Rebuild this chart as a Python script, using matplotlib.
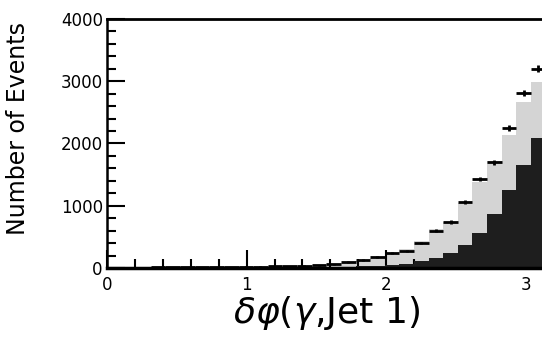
import numpy as np
import matplotlib
matplotlib.use("Agg")
import matplotlib.pyplot as plt
from matplotlib.ticker import MultipleLocator

# 30 bins in delta phi from 0 to pi
n_bins = 30
data = [5, 5, 6, 8, 8, 10, 12, 14, 16, 20, 22, 26, 30, 36, 45,
        62, 96, 128, 177, 240, 275, 400, 595, 740, 1060, 1430, 1700, 2250, 2810, 3200]
data_err = [2, 2, 2, 3, 3, 3, 3, 4, 4, 4, 5, 5, 5, 6, 7,
            8, 10, 11, 13, 15, 17, 20, 24, 27, 33, 38, 41, 47, 53, 57]
total_mc = [4, 5, 6, 7, 8, 9, 11, 13, 15, 18, 21, 25, 30, 37, 46,
            60, 85, 115, 160, 220, 300, 430, 620, 740, 1045, 1380, 1720, 2130, 2670, 2980]
direct_mc = [1, 1, 1, 2, 2, 2, 2, 3, 3, 4, 4, 5, 6, 7, 9,
             12, 18, 25, 35, 50, 70, 105, 160, 240, 370, 562, 875, 1260, 1655, 2090]

edges = np.linspace(0, np.pi, n_bins + 1)
centers = 0.5 * (edges[1:] + edges[:-1])
half_w = 0.5 * (edges[1] - edges[0])

fig = plt.figure(figsize=(5.42, 3.43), dpi=100)
ax = fig.add_axes([0.1974, 0.2187, 0.8092, 0.7259])

ax.stairs(total_mc, edges, fill=True, color="#d4d4d4", zorder=1)
ax.stairs(direct_mc, edges, fill=True, color="#1e1e1e", zorder=2)
ax.errorbar(centers, data, yerr=data_err, xerr=half_w, fmt="none",
            ecolor="black", elinewidth=2.0, capsize=0, zorder=3)

ax.set_xlim(0, np.pi)
ax.set_ylim(0, 4000)

ax.xaxis.set_major_locator(MultipleLocator(1))
ax.xaxis.set_minor_locator(MultipleLocator(0.2))
ax.yaxis.set_major_locator(MultipleLocator(1000))
ax.yaxis.set_minor_locator(MultipleLocator(200))
ax.tick_params(which="both", direction="in", top=False, right=False,
               width=1.5, labelsize=12)
ax.tick_params(which="major", length=13)
ax.tick_params(which="minor", length=6.5)
ax.tick_params(axis="y", pad=3)
ax.tick_params(axis="x", pad=6)

ax.spines["right"].set_visible(False)
ax.spines["top"].set_linewidth(2)
ax.spines["left"].set_linewidth(1.8)
ax.spines["bottom"].set_linewidth(2.5)

ax.set_ylabel("Number of Events", fontsize=17)
ax.yaxis.set_label_coords(-0.175, 0.56)
ax.set_xlabel(r"$\delta\varphi(\gamma$,Jet 1$)$", fontsize=26, labelpad=0)

fig.savefig("out.png", dpi=100)
